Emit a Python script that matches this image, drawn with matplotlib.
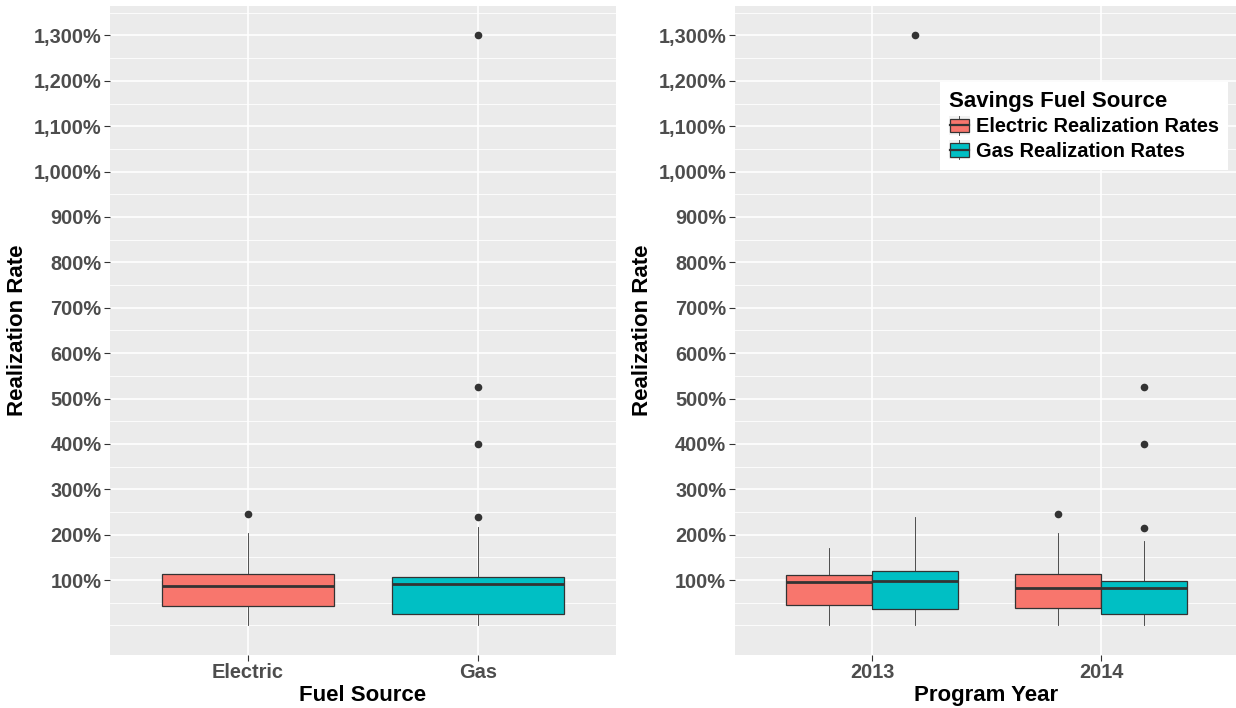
# Realization rate boxplots, by fuel source and by program year

import matplotlib
matplotlib.use('Agg')
import matplotlib.pyplot as plt
from matplotlib.legend_handler import HandlerBase
from matplotlib.patches import Rectangle, Patch
from matplotlib.lines import Line2D
from matplotlib.ticker import FixedLocator, FuncFormatter

plt.rcParams['font.family'] = ['Liberation Sans', 'DejaVu Sans']
plt.rcParams['font.weight'] = 'bold'
plt.rcParams['axes.labelweight'] = 'bold'

# ---- data (1.0 = 100%) ----
fuel_labels = ['Electric', 'Gas']
fuel_whislo = [0.0, 0.0]
fuel_q1 = [0.43, 0.243]
fuel_med = [0.875, 0.904]
fuel_q3 = [1.13, 1.065]
fuel_whishi = [2.03, 2.16]
fuel_fliers = [[2.46], [2.40, 4.00, 5.25, 13.00]]

years = ['2013', '2014']
elec_whislo = [0.0, 0.0]
elec_q1 = [0.455, 0.39]
elec_med = [0.95, 0.83]
elec_q3 = [1.11, 1.125]
elec_whishi = [1.70, 2.03]
elec_fliers = [[], [2.46]]

gas_whislo = [0.0, 0.0]
gas_q1 = [0.36, 0.243]
gas_med = [0.977, 0.83]
gas_q3 = [1.19, 0.99]
gas_whishi = [2.40, 1.86]
gas_fliers = [[13.00], [2.15, 4.00, 5.25]]

RED = '#F8766D'
TEAL = '#00BFC4'
DARK = '#333333'


def make_stats(lo, q1, med, q3, hi, fliers):
    return [dict(whislo=a, q1=b, med=c, q3=d, whishi=e, fliers=f)
            for a, b, c, d, e, f in zip(lo, q1, med, q3, hi, fliers)]


def draw_boxes(ax, stats, positions, width, color):
    res = ax.bxp(stats, positions=positions, widths=width, patch_artist=True,
                 showcaps=False, manage_ticks=False,
                 boxprops=dict(facecolor=color, edgecolor=DARK, linewidth=0.9),
                 medianprops=dict(color=DARK, linewidth=2.0),
                 whiskerprops=dict(color=DARK, linewidth=0.6),
                 flierprops=dict(marker='o', markerfacecolor=DARK, markeredgecolor='none',
                                 markersize=5.5))
    for b in res['boxes']:
        b.set_zorder(3)
    for m in res['medians']:
        m.set_zorder(4)
    return res


def style_axis(ax, xlabels, xtitle):
    ax.set_facecolor('#EBEBEB')
    for s in ax.spines.values():
        s.set_visible(False)
    ax.set_xlim(0.4, 2.6)
    ax.set_ylim(-0.65, 13.65)
    ax.xaxis.set_major_locator(FixedLocator([1, 2]))
    ax.set_xticklabels(xlabels)
    ax.yaxis.set_major_locator(FixedLocator(list(range(1, 14))))
    ax.yaxis.set_minor_locator(FixedLocator([0] + [i + 0.5 for i in range(14)]))
    ax.yaxis.set_major_formatter(FuncFormatter(lambda v, p: f'{int(round(v * 100)):,}%'))
    ax.grid(which='major', color='white', linewidth=1.2)
    ax.grid(which='minor', axis='y', color='white', linewidth=0.6)
    ax.set_axisbelow(True)
    ax.tick_params(which='major', length=4, width=0.8, color=DARK, labelcolor='#4D4D4D',
                   labelsize=14.4, pad=2)
    ax.tick_params(which='minor', length=0)
    ax.set_xlabel(xtitle, fontsize=16, color='black', fontweight='bold', labelpad=2)
    ax.set_ylabel('Realization Rate', fontsize=16, color='black', fontweight='bold',
                  labelpad=4)


class BoxKey(HandlerBase):
    # legend key: small boxplot glyph like ggplot's
    def create_artists(self, legend, orig_handle, xdescent, ydescent, width, height,
                       fontsize, trans):
        x0, y0 = -xdescent, -ydescent
        h = height
        bg = Rectangle((x0, y0), width, h, facecolor='#F2F2F2', edgecolor='none', transform=trans)
        rect = Rectangle((x0 + 0.05 * width, y0 + 0.15 * h), 0.9 * width, 0.7 * h,
                         facecolor=orig_handle.get_facecolor(), edgecolor=DARK, lw=0.9,
                         transform=trans)
        med = Line2D([x0 + 0.05 * width, x0 + 0.95 * width], [y0 + 0.5 * h] * 2,
                     color=DARK, lw=1.6, transform=trans)
        wt = Line2D([x0 + width / 2] * 2, [y0 + 0.85 * h, y0 + h], color=DARK, lw=0.6,
                    transform=trans)
        wb = Line2D([x0 + width / 2] * 2, [y0, y0 + 0.15 * h], color=DARK, lw=0.6,
                    transform=trans)
        return [bg, rect, med, wt, wb]


fig = plt.figure(figsize=(12.36, 7.08), dpi=100)
ax1 = fig.add_axes([0.0890, 0.0749, 0.4091, 0.9167])
ax2 = fig.add_axes([0.5943, 0.0749, 0.4076, 0.9167])

# left panel: by fuel source
fuel_stats = make_stats(fuel_whislo, fuel_q1, fuel_med, fuel_q3, fuel_whishi, fuel_fliers)
draw_boxes(ax1, [fuel_stats[0]], [1], 0.75, RED)
draw_boxes(ax1, [fuel_stats[1]], [2], 0.75, TEAL)
style_axis(ax1, fuel_labels, 'Fuel Source')

# right panel: by program year, dodged
pos = [1, 2]
elec_stats = make_stats(elec_whislo, elec_q1, elec_med, elec_q3, elec_whishi, elec_fliers)
gas_stats = make_stats(gas_whislo, gas_q1, gas_med, gas_q3, gas_whishi, gas_fliers)
draw_boxes(ax2, elec_stats, [p - 0.1875 for p in pos], 0.375, RED)
draw_boxes(ax2, gas_stats, [p + 0.1875 for p in pos], 0.375, TEAL)
style_axis(ax2, years, 'Program Year')

handles = [Patch(facecolor=RED), Patch(facecolor=TEAL)]
leg = ax2.legend(handles, ['Electric Realization Rates', 'Gas Realization Rates'],
                 title='Savings Fuel Source', loc='upper right',
                 bbox_to_anchor=(0.979, 0.883), handler_map={Patch: BoxKey()},
                 fontsize=14.4, title_fontsize=16, frameon=True, fancybox=False,
                 handlelength=1.05, handleheight=1.1, handletextpad=0.3,
                 labelspacing=0.2, borderpad=0.45, borderaxespad=0, alignment='left')
leg.get_frame().set_facecolor('white')
leg.get_frame().set_edgecolor('none')
leg.get_frame().set_alpha(1)
leg.get_title().set_fontweight('bold')

fig.savefig('out.png', dpi=100)
